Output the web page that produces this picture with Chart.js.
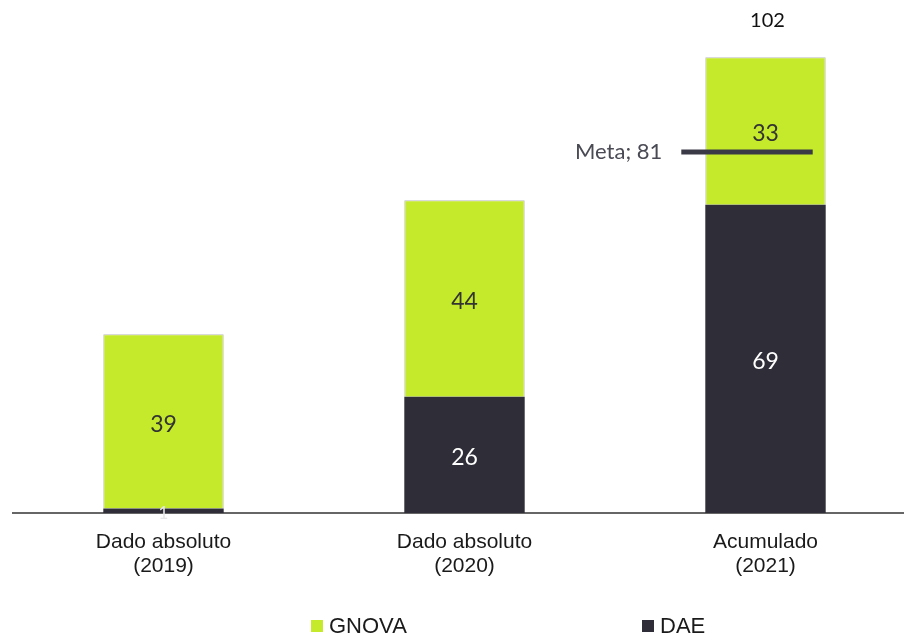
<!DOCTYPE html>
<html>
<head>
<meta charset="utf-8">
<script src="https://cdn.jsdelivr.net/npm/chart.js@4.4.1/dist/chart.umd.min.js"></script>
<style>
  html,body{margin:0;padding:0;background:#fff;overflow:hidden;width:904px;height:635px;}
  #wrap{position:absolute;left:0;top:0;width:916px;height:635px;}
  #legend{position:absolute;left:0;top:0;width:904px;height:635px;pointer-events:none;font-family:"Liberation Sans",Arial,sans-serif;font-size:22px;color:#1a1a1a;}
  .item{position:absolute;top:614px;height:24px;line-height:24px;white-space:nowrap;}
  .box{display:inline-block;width:12px;height:12px;vertical-align:middle;margin-right:6px;position:relative;top:-1px;}
</style>
</head>
<body>
<div id="wrap"><canvas id="c" width="916" height="635"></canvas></div>
<div id="legend"></div>
<script>
const categories = [['Dado absoluto','(2019)'],['Dado absoluto','(2020)'],['Acumulado','(2021)']];
const daeValues = [1, 26, 69];
const gnovaValues = [39, 44, 33];
const totalLabels = [null, null, 102];
const metaValue = 81;
const metaLabel = 'Meta; 81';
const legendOrder = ['GNOVA', 'DAE'];

const GREEN = '#c4ea2b';
const DARK = '#2e2d38';

const valueLabels = {
  id: 'valueLabels',
  afterDatasetsDraw(chart) {
    const ctx = chart.ctx;
    ctx.save();
    ctx.textAlign = 'center';
    ctx.textBaseline = 'middle';
    chart.data.datasets.forEach((ds, di) => {
      const meta = chart.getDatasetMeta(di);
      meta.data.forEach((bar, i) => {
        const v = ds.data[i];
        if (v == null) return;
        const yc = (bar.y + bar.base) / 2;
        if (v < 5) {
          ctx.font = '17px Lato, "Liberation Sans", sans-serif';
          ctx.fillStyle = '#e6e6e6';
          ctx.fillText(String(v), bar.x, bar.base + 1);
        } else {
          ctx.font = '23px Lato, "Liberation Sans", sans-serif';
          ctx.fillStyle = ds.labelColor;
          ctx.fillText(String(v), bar.x, yc + 3);
        }
      });
    });
    const top = chart.getDatasetMeta(chart.data.datasets.length - 1);
    top.data.forEach((bar, i) => {
      if (totalLabels[i] == null) return;
      ctx.font = '20px Lato, "Liberation Sans", sans-serif';
      ctx.fillStyle = '#111';
      ctx.fillText(String(totalLabels[i]), bar.x + 2, bar.y - 37);
    });
    const yS = chart.scales.y;
    const b = top.data[2];
    const y = yS.getPixelForValue(metaValue) + 1;
    const left = b.x - b.width / 2 - 24;
    const right = b.x + b.width / 2 - 13;
    ctx.strokeStyle = '#3a3a47';
    ctx.lineWidth = 5;
    ctx.beginPath();
    ctx.moveTo(left, y);
    ctx.lineTo(right, y);
    ctx.stroke();
    ctx.font = '22px Lato, "Liberation Sans", sans-serif';
    ctx.fillStyle = '#4a4a55';
    ctx.textAlign = 'right';
    ctx.fillText(metaLabel, left - 19, y);
    ctx.restore();
  }
};

const chart = new Chart(document.getElementById('c'), {
  type: 'bar',
  data: {
    labels: categories,
    datasets: [
      { label: 'DAE', data: daeValues, backgroundColor: DARK, labelColor: '#ffffff', borderWidth: 0 },
      { label: 'GNOVA', data: gnovaValues, backgroundColor: GREEN, labelColor: '#333333',
        borderColor: 'rgba(160,160,160,0.7)', borderWidth: {top: 1, left: 1, right: 1, bottom: 0}, borderSkipped: 'bottom' }
    ]
  },
  options: {
    responsive: false,
    animation: false,
    layout: { padding: { left: 13, right: 0, top: 0, bottom: 0 } },
    datasets: { bar: { barPercentage: 0.4, categoryPercentage: 1 } },
    plugins: { legend: { display: false }, tooltip: { enabled: false } },
    scales: {
      x: {
        stacked: true,
        grid: { display: false },
        border: { display: true, color: '#666666', width: 2 },
        ticks: { color: '#1a1a1a', padding: 9, maxRotation: 0, autoSkip: false,
          font: { family: '"Liberation Sans", Arial, sans-serif', size: 21, lineHeight: 1.15 } },
        afterFit(scale) { scale.height = 122; }
      },
      y: { stacked: true, display: false, min: 0, max: 114.8 }
    }
  },
  plugins: [valueLabels]
});

const legendPos = { GNOVA: 311, DAE: 642 };
const lg = document.getElementById('legend');
legendOrder.forEach(name => {
  const ds = chart.data.datasets.find(d => d.label === name);
  const it = document.createElement('div');
  it.className = 'item';
  it.style.left = legendPos[name] + 'px';
  const bx = document.createElement('span');
  bx.className = 'box';
  bx.style.background = ds.backgroundColor;
  it.appendChild(bx);
  it.appendChild(document.createTextNode(name));
  lg.appendChild(it);
});
</script>
</body>
</html>
